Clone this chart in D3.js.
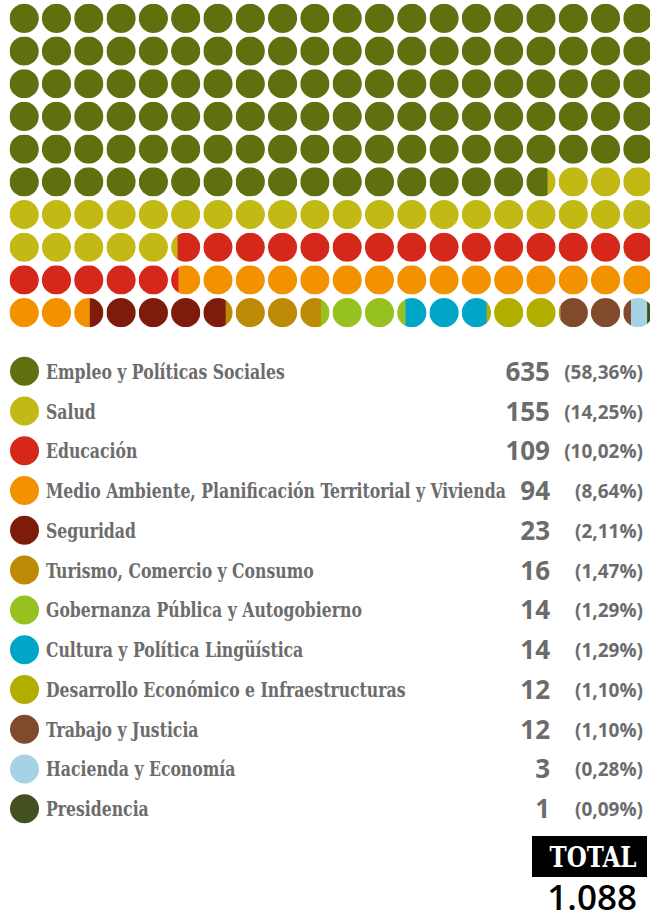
<!DOCTYPE html>
<html>
<head>
<meta charset="utf-8">
<script src="https://cdn.jsdelivr.net/npm/d3@7"></script>
<style>
  body { margin: 0; background: #fff; }
  svg { display: block; }
</style>
</head>
<body>
<svg id="chart" width="650" height="921"></svg>
<script>
// categories and values (number of items per area)
var categories = [
    "Empleo y Políticas Sociales",
    "Salud",
    "Educación",
    "Medio Ambiente, Planificación Territorial y Vivienda",
    "Seguridad",
    "Turismo, Comercio y Consumo",
    "Gobernanza Pública y Autogobierno",
    "Cultura y Política Lingüística",
    "Desarrollo Económico e Infraestructuras",
    "Trabajo y Justicia",
    "Hacienda y Economía",
    "Presidencia"
];
var values = [635, 155, 109, 94, 23, 16, 14, 14, 12, 12, 3, 1];

var palette = ["#5e710e", "#c3b915", "#d5281b", "#f39200", "#7e1c0c", "#be8904",
    "#96c11f", "#00a6c8", "#b2ae00", "#824a2d", "#a6d3e3", "#42511f"];

var nCols = 20, nRows = 10;

var svg = d3.select("#chart");
var color = d3.scaleOrdinal().domain(categories).range(palette);
var locale = d3.formatLocale({ decimal: ",", thousands: ".", grouping: [3], currency: ["", "€"] });
var fmtPct = locale.format(".2f");
var fmtInt = locale.format(",d");

var total = d3.sum(values);
var perDot = total / (nCols * nRows);

// cumulative extents in "dot" units
var cum = 0;
var spans = categories.map(function(c, i) {
    var a = cum;
    cum += values[i] / perDot;
    return { cat: c, a: a, b: cum };
});

var slab = "'DejaVu Serif', serif";

/*
 *  Waffle
 */
var x = d3.scaleBand().domain(d3.range(nCols)).range([8, 654]);
var y = d3.scaleBand().domain(d3.range(nRows)).range([2, 329]);
var r = 14.6;

svg.append("defs").append("clipPath")
    .attr("id", "dot")
    .append("circle")
    .attr("r", r);

var dots = svg.append("g").selectAll("g")
    .data(d3.range(nCols * nRows))
    .enter().append("g")
    .attr("transform", function(i) {
        var cx = x(i % nCols) + x.bandwidth() / 2;
        var cy = y(Math.floor(i / nCols)) + y.bandwidth() / 2;
        return "translate(" + cx + "," + cy + ")";
    })
    .attr("clip-path", "url(#dot)");

dots.selectAll("rect")
    .data(function(i) {
        return spans.filter(function(s) { return s.b > i && s.a < i + 1; })
            .map(function(s) {
                return { cat: s.cat, lo: Math.max(s.a, i) - i, hi: Math.min(s.b, i + 1) - i };
            });
    })
    .enter().append("rect")
    .attr("x", function(d) { return -r + d.lo * 2 * r; })
    .attr("width", function(d) { return (d.hi - d.lo) * 2 * r + 0.3; })
    .attr("y", -r)
    .attr("height", 2 * r)
    .attr("fill", function(d) { return color(d.cat); });

/*
 *  Legend
 */
var ly = d3.scalePoint().domain(categories).range([371.3, 808.7]);
var grey = "#6c6c6c";

var rows = svg.append("g").selectAll("g")
    .data(categories)
    .enter().append("g")
    .attr("transform", function(d) { return "translate(0," + ly(d) + ")"; });

rows.append("circle")
    .attr("cx", 24.5)
    .attr("r", 14.5)
    .attr("fill", function(d) { return color(d); });

var labels = rows.append("text")
    .attr("x", 0)
    .attr("y", 7.5)
    .attr("fill", grey)
    .style("font-family", slab)
    .style("font-stretch", "condensed")
    .style("font-weight", "bold")
    .style("font-size", "19.5px")
    .text(function(d) { return d; });

// squeeze labels so the longest one ends where it does in print
var longest = d3.max(labels.nodes(), function(n) { return n.getComputedTextLength(); });
var k = 460 / longest;
labels.attr("transform", "translate(46,0) scale(" + k + ",1)");

rows.append("text")
    .attr("x", 550)
    .attr("y", 9.5)
    .attr("text-anchor", "end")
    .attr("fill", grey)
    .style("font-family", "'Open Sans', sans-serif")
    .style("font-weight", "bold")
    .style("font-size", "26px")
    .text(function(d, i) { return values[i]; });

rows.append("text")
    .attr("x", 643)
    .attr("y", 7.5)
    .attr("text-anchor", "end")
    .attr("fill", grey)
    .style("font-family", "'Open Sans', sans-serif")
    .style("font-weight", "bold")
    .style("font-size", "19px")
    .text(function(d, i) { return "(" + fmtPct(values[i] / total * 100) + "%)"; });

/*
 *  Total
 */
svg.append("rect")
    .attr("x", 532)
    .attr("y", 836)
    .attr("width", 115)
    .attr("height", 41)
    .attr("fill", "#000");

var tot = svg.append("text")
    .attr("x", 0)
    .attr("y", 0)
    .attr("text-anchor", "middle")
    .attr("fill", "#fff")
    .style("font-family", slab)
    .style("font-stretch", "condensed")
    .style("font-weight", "bold")
    .style("font-size", "27px")
    .text("TOTAL");
var tw = tot.node().getComputedTextLength();
tot.attr("transform", "translate(593,867) scale(" + (87 / tw) + ",1)");

svg.append("text")
    .attr("x", 637)
    .attr("y", 910)
    .attr("text-anchor", "end")
    .attr("fill", "#000")
    .style("font-family", "'Open Sans', sans-serif")
    .style("font-weight", "600")
    .style("font-size", "35px")
    .text(fmtInt(total));
</script>
</body>
</html>
